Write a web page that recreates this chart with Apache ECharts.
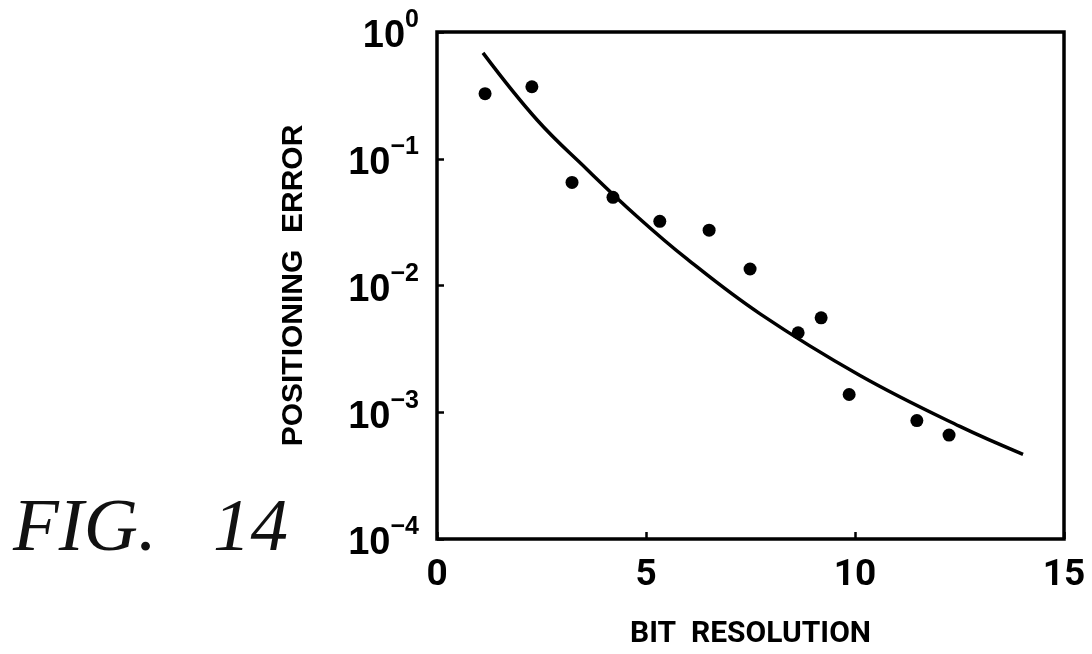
<!DOCTYPE html>
<html>
<head>
<meta charset="utf-8">
<script src="https://cdn.jsdelivr.net/npm/echarts@6/dist/echarts.min.js"></script>
<style>
  html, body { margin: 0; padding: 0; background: #fff; }
  #chart-container { width: 1092px; height: 654px; }
</style>
</head>
<body>
<div id="chart-container"></div>
<script>
// measured points (bit resolution, positioning error)
var pointX = [1.15, 2.27, 3.23, 4.21, 5.33, 6.51, 7.49, 8.64, 9.19, 9.86, 11.48, 12.25];
var pointY = [0.326, 0.37, 0.065, 0.0496, 0.0321, 0.0273, 0.0135, 0.00424, 0.00556, 0.00138, 0.00086, 0.00066];

// fitted curve
var curveX = [1.1, 2.39, 3.59, 4.78, 5.98, 7.73, 10.12, 12.51, 14.02];
var curveY = [0.684, 0.203, 0.0823, 0.0352, 0.0162, 0.00597, 0.00195, 0.000773, 0.000466];

var xTicks = [0, 5, 10, 15];

var figLabel = 'FIG.   14';
var xName = 'BIT  RESOLUTION';
var yName = 'POSITIONING  ERROR';

function zip(xs, ys) {
  return xs.map(function (x, i) { return [x, ys[i]]; });
}

var dom = document.getElementById('chart-container');
var myChart = echarts.init(dom);

var option = {
  animation: false,
  backgroundColor: '#fff',
  title: {
    text: figLabel,
    left: 8,
    top: 488,
    textStyle: {
      fontFamily: '"Liberation Serif", serif',
      fontStyle: 'italic',
      fontWeight: 'normal',
      fontSize: 75,
      color: '#111'
    }
  },
  grid: {
    left: 437,
    right: 28,
    top: 32,
    bottom: 113,
    show: true,
    borderColor: '#000',
    borderWidth: 3.5
  },
  xAxis: {
    type: 'value',
    min: 0,
    max: 15,
    interval: 5,
    name: xName,
    nameLocation: 'middle',
    nameGap: 80,
    nameTextStyle: {
      fontFamily: 'Roboto, "Liberation Sans", sans-serif',
      fontWeight: 'bold',
      fontSize: 30,
      color: '#000'
    },
    axisLine: { show: false },
    axisTick: { show: true, inside: true, length: 7, lineStyle: { color: '#000', width: 2.5 } },
    splitLine: { show: false },
    axisLabel: {
      margin: 18,
      color: '#000',
      fontFamily: 'Roboto, "Liberation Sans", sans-serif',
      fontWeight: 'bold',
      fontSize: 37,
      formatter: function (v) { return xTicks.indexOf(v) >= 0 ? String(v) : ''; }
    }
  },
  yAxis: {
    type: 'log',
    logBase: 10,
    min: 0.0001,
    max: 1,
    name: yName,
    nameLocation: 'middle',
    nameGap: 128,
    nameTextStyle: {
      fontFamily: '"Liberation Sans", sans-serif',
      fontWeight: 'bold',
      fontSize: 30,
      color: '#000'
    },
    axisLine: { show: false },
    axisTick: { show: true, inside: true, length: 7, lineStyle: { color: '#000', width: 2.5 } },
    splitLine: { show: false },
    axisLabel: {
      margin: 18,
      color: '#000',
      formatter: function (v) {
        var e = Math.round(Math.log10(v));
        return '{b|10}{s|' + (e === 0 ? '0' : '\u2212' + (-e)) + '}';
      },
      rich: {
        b: {
          fontFamily: '"Liberation Sans", sans-serif',
          fontWeight: 'bold',
          fontSize: 38,
          color: '#000',
          lineHeight: 48,
          verticalAlign: 'bottom'
        },
        s: {
          fontFamily: '"Liberation Sans", sans-serif',
          fontWeight: 'bold',
          fontSize: 25,
          color: '#000',
          lineHeight: 48,
          verticalAlign: 'top'
        }
      }
    }
  },
  series: [
    {
      type: 'line',
      data: zip(curveX, curveY),
      smooth: 0.4,
      showSymbol: false,
      symbol: 'none',
      lineStyle: { color: '#000', width: 3.5 },
      z: 2
    },
    {
      type: 'scatter',
      data: zip(pointX, pointY),
      symbol: 'circle',
      symbolSize: 13,
      itemStyle: { color: '#000', opacity: 1 },
      z: 3
    }
  ]
};

myChart.setOption(option);
</script>
</body>
</html>
